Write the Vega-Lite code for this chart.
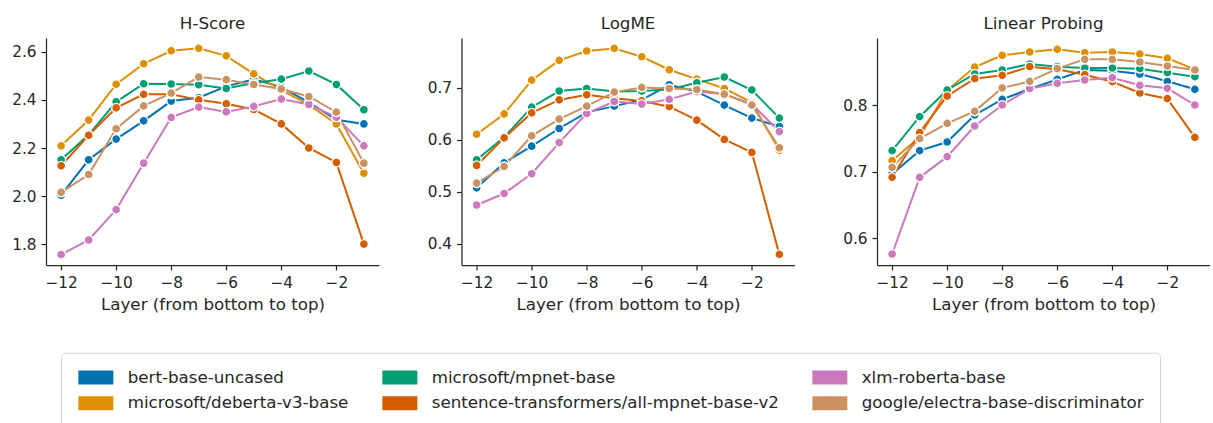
{
  "$schema": "https://vega.github.io/schema/vega-lite/v6.json",
  "background": "white",
  "padding": {"left": 11, "top": 16, "right": 0, "bottom": 0},
  "bounds": "flush",
  "spacing": 82.5,
  "config": {
    "view": {"stroke": null},
    "font": "DejaVu Sans",
    "axis": {
      "grid": false,
      "domainColor": "#262626",
      "domainWidth": 1.25,
      "tickColor": "#262626",
      "tickWidth": 1.25,
      "tickSize": 5,
      "labelFont": "DejaVu Sans",
      "labelFontSize": 15.3,
      "labelColor": "#262626",
      "labelPadding": 5,
      "titleFont": "DejaVu Sans",
      "titleFontSize": 16.7,
      "titleFontWeight": "normal",
      "titleColor": "#262626",
      "titlePadding": 6
    },
    "title": {"font": "DejaVu Sans", "fontSize": 16.7, "fontWeight": "normal", "color": "#262626", "baseline": "bottom", "offset": 5},
    "legend": {
      "labelFont": "DejaVu Sans",
      "labelFontSize": 16.7,
      "labelColor": "#262626",
      "labelLimit": 0,
      "symbolType": "M-1,-1H4V1H-1Z",
      "symbolSize": 196,
      "symbolStrokeWidth": 0,
      "symbolOpacity": 1,
      "labelOffset": 34,
      "columnPadding": 32,
      "rowPadding": 8.3,
      "padding": 16,
      "strokeColor": "#d4d4d4",
      "fillColor": "white",
      "cornerRadius": 4
    }
  },
  "datasets": {
    "d": [
      {"metric":"H-Score","model":"bert-base-uncased","layer":-12,"value":2.004},
      {"metric":"H-Score","model":"bert-base-uncased","layer":-11,"value":2.151},
      {"metric":"H-Score","model":"bert-base-uncased","layer":-10,"value":2.237},
      {"metric":"H-Score","model":"bert-base-uncased","layer":-9,"value":2.313},
      {"metric":"H-Score","model":"bert-base-uncased","layer":-8,"value":2.395},
      {"metric":"H-Score","model":"bert-base-uncased","layer":-7,"value":2.409},
      {"metric":"H-Score","model":"bert-base-uncased","layer":-6,"value":2.456},
      {"metric":"H-Score","model":"bert-base-uncased","layer":-5,"value":2.486},
      {"metric":"H-Score","model":"bert-base-uncased","layer":-4,"value":2.453},
      {"metric":"H-Score","model":"bert-base-uncased","layer":-3,"value":2.39},
      {"metric":"H-Score","model":"bert-base-uncased","layer":-2,"value":2.317},
      {"metric":"H-Score","model":"bert-base-uncased","layer":-1,"value":2.30},
      {"metric":"H-Score","model":"microsoft/deberta-v3-base","layer":-12,"value":2.209},
      {"metric":"H-Score","model":"microsoft/deberta-v3-base","layer":-11,"value":2.316},
      {"metric":"H-Score","model":"microsoft/deberta-v3-base","layer":-10,"value":2.465},
      {"metric":"H-Score","model":"microsoft/deberta-v3-base","layer":-9,"value":2.55},
      {"metric":"H-Score","model":"microsoft/deberta-v3-base","layer":-8,"value":2.604},
      {"metric":"H-Score","model":"microsoft/deberta-v3-base","layer":-7,"value":2.614},
      {"metric":"H-Score","model":"microsoft/deberta-v3-base","layer":-6,"value":2.583},
      {"metric":"H-Score","model":"microsoft/deberta-v3-base","layer":-5,"value":2.508},
      {"metric":"H-Score","model":"microsoft/deberta-v3-base","layer":-4,"value":2.44},
      {"metric":"H-Score","model":"microsoft/deberta-v3-base","layer":-3,"value":2.38},
      {"metric":"H-Score","model":"microsoft/deberta-v3-base","layer":-2,"value":2.30},
      {"metric":"H-Score","model":"microsoft/deberta-v3-base","layer":-1,"value":2.095},
      {"metric":"H-Score","model":"microsoft/mpnet-base","layer":-12,"value":2.151},
      {"metric":"H-Score","model":"microsoft/mpnet-base","layer":-11,"value":2.255},
      {"metric":"H-Score","model":"microsoft/mpnet-base","layer":-10,"value":2.392},
      {"metric":"H-Score","model":"microsoft/mpnet-base","layer":-9,"value":2.467},
      {"metric":"H-Score","model":"microsoft/mpnet-base","layer":-8,"value":2.466},
      {"metric":"H-Score","model":"microsoft/mpnet-base","layer":-7,"value":2.463},
      {"metric":"H-Score","model":"microsoft/mpnet-base","layer":-6,"value":2.447},
      {"metric":"H-Score","model":"microsoft/mpnet-base","layer":-5,"value":2.47},
      {"metric":"H-Score","model":"microsoft/mpnet-base","layer":-4,"value":2.486},
      {"metric":"H-Score","model":"microsoft/mpnet-base","layer":-3,"value":2.52},
      {"metric":"H-Score","model":"microsoft/mpnet-base","layer":-2,"value":2.464},
      {"metric":"H-Score","model":"microsoft/mpnet-base","layer":-1,"value":2.359},
      {"metric":"H-Score","model":"sentence-transformers/all-mpnet-base-v2","layer":-12,"value":2.126},
      {"metric":"H-Score","model":"sentence-transformers/all-mpnet-base-v2","layer":-11,"value":2.253},
      {"metric":"H-Score","model":"sentence-transformers/all-mpnet-base-v2","layer":-10,"value":2.367},
      {"metric":"H-Score","model":"sentence-transformers/all-mpnet-base-v2","layer":-9,"value":2.423},
      {"metric":"H-Score","model":"sentence-transformers/all-mpnet-base-v2","layer":-8,"value":2.423},
      {"metric":"H-Score","model":"sentence-transformers/all-mpnet-base-v2","layer":-7,"value":2.40},
      {"metric":"H-Score","model":"sentence-transformers/all-mpnet-base-v2","layer":-6,"value":2.384},
      {"metric":"H-Score","model":"sentence-transformers/all-mpnet-base-v2","layer":-5,"value":2.36},
      {"metric":"H-Score","model":"sentence-transformers/all-mpnet-base-v2","layer":-4,"value":2.30},
      {"metric":"H-Score","model":"sentence-transformers/all-mpnet-base-v2","layer":-3,"value":2.20},
      {"metric":"H-Score","model":"sentence-transformers/all-mpnet-base-v2","layer":-2,"value":2.14},
      {"metric":"H-Score","model":"sentence-transformers/all-mpnet-base-v2","layer":-1,"value":1.801},
      {"metric":"H-Score","model":"xlm-roberta-base","layer":-12,"value":1.757},
      {"metric":"H-Score","model":"xlm-roberta-base","layer":-11,"value":1.818},
      {"metric":"H-Score","model":"xlm-roberta-base","layer":-10,"value":1.944},
      {"metric":"H-Score","model":"xlm-roberta-base","layer":-9,"value":2.137},
      {"metric":"H-Score","model":"xlm-roberta-base","layer":-8,"value":2.327},
      {"metric":"H-Score","model":"xlm-roberta-base","layer":-7,"value":2.37},
      {"metric":"H-Score","model":"xlm-roberta-base","layer":-6,"value":2.35},
      {"metric":"H-Score","model":"xlm-roberta-base","layer":-5,"value":2.373},
      {"metric":"H-Score","model":"xlm-roberta-base","layer":-4,"value":2.403},
      {"metric":"H-Score","model":"xlm-roberta-base","layer":-3,"value":2.381},
      {"metric":"H-Score","model":"xlm-roberta-base","layer":-2,"value":2.328},
      {"metric":"H-Score","model":"xlm-roberta-base","layer":-1,"value":2.209},
      {"metric":"H-Score","model":"google/electra-base-discriminator","layer":-12,"value":2.016},
      {"metric":"H-Score","model":"google/electra-base-discriminator","layer":-11,"value":2.09},
      {"metric":"H-Score","model":"google/electra-base-discriminator","layer":-10,"value":2.28},
      {"metric":"H-Score","model":"google/electra-base-discriminator","layer":-9,"value":2.375},
      {"metric":"H-Score","model":"google/electra-base-discriminator","layer":-8,"value":2.428},
      {"metric":"H-Score","model":"google/electra-base-discriminator","layer":-7,"value":2.495},
      {"metric":"H-Score","model":"google/electra-base-discriminator","layer":-6,"value":2.484},
      {"metric":"H-Score","model":"google/electra-base-discriminator","layer":-5,"value":2.464},
      {"metric":"H-Score","model":"google/electra-base-discriminator","layer":-4,"value":2.445},
      {"metric":"H-Score","model":"google/electra-base-discriminator","layer":-3,"value":2.414},
      {"metric":"H-Score","model":"google/electra-base-discriminator","layer":-2,"value":2.349},
      {"metric":"H-Score","model":"google/electra-base-discriminator","layer":-1,"value":2.137},

      {"metric":"LogME","model":"bert-base-uncased","layer":-12,"value":0.508},
      {"metric":"LogME","model":"bert-base-uncased","layer":-11,"value":0.556},
      {"metric":"LogME","model":"bert-base-uncased","layer":-10,"value":0.588},
      {"metric":"LogME","model":"bert-base-uncased","layer":-9,"value":0.622},
      {"metric":"LogME","model":"bert-base-uncased","layer":-8,"value":0.653},
      {"metric":"LogME","model":"bert-base-uncased","layer":-7,"value":0.665},
      {"metric":"LogME","model":"bert-base-uncased","layer":-6,"value":0.677},
      {"metric":"LogME","model":"bert-base-uncased","layer":-5,"value":0.706},
      {"metric":"LogME","model":"bert-base-uncased","layer":-4,"value":0.693},
      {"metric":"LogME","model":"bert-base-uncased","layer":-3,"value":0.667},
      {"metric":"LogME","model":"bert-base-uncased","layer":-2,"value":0.642},
      {"metric":"LogME","model":"bert-base-uncased","layer":-1,"value":0.626},
      {"metric":"LogME","model":"microsoft/deberta-v3-base","layer":-12,"value":0.611},
      {"metric":"LogME","model":"microsoft/deberta-v3-base","layer":-11,"value":0.65},
      {"metric":"LogME","model":"microsoft/deberta-v3-base","layer":-10,"value":0.715},
      {"metric":"LogME","model":"microsoft/deberta-v3-base","layer":-9,"value":0.753},
      {"metric":"LogME","model":"microsoft/deberta-v3-base","layer":-8,"value":0.771},
      {"metric":"LogME","model":"microsoft/deberta-v3-base","layer":-7,"value":0.776},
      {"metric":"LogME","model":"microsoft/deberta-v3-base","layer":-6,"value":0.760},
      {"metric":"LogME","model":"microsoft/deberta-v3-base","layer":-5,"value":0.735},
      {"metric":"LogME","model":"microsoft/deberta-v3-base","layer":-4,"value":0.717},
      {"metric":"LogME","model":"microsoft/deberta-v3-base","layer":-3,"value":0.699},
      {"metric":"LogME","model":"microsoft/deberta-v3-base","layer":-2,"value":0.672},
      {"metric":"LogME","model":"microsoft/deberta-v3-base","layer":-1,"value":0.58},
      {"metric":"LogME","model":"microsoft/mpnet-base","layer":-12,"value":0.562},
      {"metric":"LogME","model":"microsoft/mpnet-base","layer":-11,"value":0.605},
      {"metric":"LogME","model":"microsoft/mpnet-base","layer":-10,"value":0.663},
      {"metric":"LogME","model":"microsoft/mpnet-base","layer":-9,"value":0.694},
      {"metric":"LogME","model":"microsoft/mpnet-base","layer":-8,"value":0.699},
      {"metric":"LogME","model":"microsoft/mpnet-base","layer":-7,"value":0.693},
      {"metric":"LogME","model":"microsoft/mpnet-base","layer":-6,"value":0.694},
      {"metric":"LogME","model":"microsoft/mpnet-base","layer":-5,"value":0.697},
      {"metric":"LogME","model":"microsoft/mpnet-base","layer":-4,"value":0.71},
      {"metric":"LogME","model":"microsoft/mpnet-base","layer":-3,"value":0.721},
      {"metric":"LogME","model":"microsoft/mpnet-base","layer":-2,"value":0.696},
      {"metric":"LogME","model":"microsoft/mpnet-base","layer":-1,"value":0.642},
      {"metric":"LogME","model":"sentence-transformers/all-mpnet-base-v2","layer":-12,"value":0.551},
      {"metric":"LogME","model":"sentence-transformers/all-mpnet-base-v2","layer":-11,"value":0.604},
      {"metric":"LogME","model":"sentence-transformers/all-mpnet-base-v2","layer":-10,"value":0.652},
      {"metric":"LogME","model":"sentence-transformers/all-mpnet-base-v2","layer":-9,"value":0.677},
      {"metric":"LogME","model":"sentence-transformers/all-mpnet-base-v2","layer":-8,"value":0.687},
      {"metric":"LogME","model":"sentence-transformers/all-mpnet-base-v2","layer":-7,"value":0.680},
      {"metric":"LogME","model":"sentence-transformers/all-mpnet-base-v2","layer":-6,"value":0.675},
      {"metric":"LogME","model":"sentence-transformers/all-mpnet-base-v2","layer":-5,"value":0.664},
      {"metric":"LogME","model":"sentence-transformers/all-mpnet-base-v2","layer":-4,"value":0.638},
      {"metric":"LogME","model":"sentence-transformers/all-mpnet-base-v2","layer":-3,"value":0.601},
      {"metric":"LogME","model":"sentence-transformers/all-mpnet-base-v2","layer":-2,"value":0.576},
      {"metric":"LogME","model":"sentence-transformers/all-mpnet-base-v2","layer":-1,"value":0.38},
      {"metric":"LogME","model":"xlm-roberta-base","layer":-12,"value":0.475},
      {"metric":"LogME","model":"xlm-roberta-base","layer":-11,"value":0.497},
      {"metric":"LogME","model":"xlm-roberta-base","layer":-10,"value":0.535},
      {"metric":"LogME","model":"xlm-roberta-base","layer":-9,"value":0.595},
      {"metric":"LogME","model":"xlm-roberta-base","layer":-8,"value":0.651},
      {"metric":"LogME","model":"xlm-roberta-base","layer":-7,"value":0.674},
      {"metric":"LogME","model":"xlm-roberta-base","layer":-6,"value":0.669},
      {"metric":"LogME","model":"xlm-roberta-base","layer":-5,"value":0.678},
      {"metric":"LogME","model":"xlm-roberta-base","layer":-4,"value":0.693},
      {"metric":"LogME","model":"xlm-roberta-base","layer":-3,"value":0.688},
      {"metric":"LogME","model":"xlm-roberta-base","layer":-2,"value":0.669},
      {"metric":"LogME","model":"xlm-roberta-base","layer":-1,"value":0.616},
      {"metric":"LogME","model":"google/electra-base-discriminator","layer":-12,"value":0.517},
      {"metric":"LogME","model":"google/electra-base-discriminator","layer":-11,"value":0.549},
      {"metric":"LogME","model":"google/electra-base-discriminator","layer":-10,"value":0.608},
      {"metric":"LogME","model":"google/electra-base-discriminator","layer":-9,"value":0.640},
      {"metric":"LogME","model":"google/electra-base-discriminator","layer":-8,"value":0.665},
      {"metric":"LogME","model":"google/electra-base-discriminator","layer":-7,"value":0.692},
      {"metric":"LogME","model":"google/electra-base-discriminator","layer":-6,"value":0.701},
      {"metric":"LogME","model":"google/electra-base-discriminator","layer":-5,"value":0.699},
      {"metric":"LogME","model":"google/electra-base-discriminator","layer":-4,"value":0.697},
      {"metric":"LogME","model":"google/electra-base-discriminator","layer":-3,"value":0.688},
      {"metric":"LogME","model":"google/electra-base-discriminator","layer":-2,"value":0.667},
      {"metric":"LogME","model":"google/electra-base-discriminator","layer":-1,"value":0.585},

      {"metric":"Linear Probing","model":"bert-base-uncased","layer":-12,"value":0.6965},
      {"metric":"Linear Probing","model":"bert-base-uncased","layer":-11,"value":0.7315},
      {"metric":"Linear Probing","model":"bert-base-uncased","layer":-10,"value":0.7445},
      {"metric":"Linear Probing","model":"bert-base-uncased","layer":-9,"value":0.785},
      {"metric":"Linear Probing","model":"bert-base-uncased","layer":-8,"value":0.8085},
      {"metric":"Linear Probing","model":"bert-base-uncased","layer":-7,"value":0.824},
      {"metric":"Linear Probing","model":"bert-base-uncased","layer":-6,"value":0.8385},
      {"metric":"Linear Probing","model":"bert-base-uncased","layer":-5,"value":0.8525},
      {"metric":"Linear Probing","model":"bert-base-uncased","layer":-4,"value":0.8515},
      {"metric":"Linear Probing","model":"bert-base-uncased","layer":-3,"value":0.8465},
      {"metric":"Linear Probing","model":"bert-base-uncased","layer":-2,"value":0.8355},
      {"metric":"Linear Probing","model":"bert-base-uncased","layer":-1,"value":0.8235},
      {"metric":"Linear Probing","model":"microsoft/deberta-v3-base","layer":-12,"value":0.7165},
      {"metric":"Linear Probing","model":"microsoft/deberta-v3-base","layer":-11,"value":0.752},
      {"metric":"Linear Probing","model":"microsoft/deberta-v3-base","layer":-10,"value":0.822},
      {"metric":"Linear Probing","model":"microsoft/deberta-v3-base","layer":-9,"value":0.857},
      {"metric":"Linear Probing","model":"microsoft/deberta-v3-base","layer":-8,"value":0.8745},
      {"metric":"Linear Probing","model":"microsoft/deberta-v3-base","layer":-7,"value":0.8795},
      {"metric":"Linear Probing","model":"microsoft/deberta-v3-base","layer":-6,"value":0.8835},
      {"metric":"Linear Probing","model":"microsoft/deberta-v3-base","layer":-5,"value":0.8785},
      {"metric":"Linear Probing","model":"microsoft/deberta-v3-base","layer":-4,"value":0.8795},
      {"metric":"Linear Probing","model":"microsoft/deberta-v3-base","layer":-3,"value":0.8765},
      {"metric":"Linear Probing","model":"microsoft/deberta-v3-base","layer":-2,"value":0.870},
      {"metric":"Linear Probing","model":"microsoft/deberta-v3-base","layer":-1,"value":0.8535},
      {"metric":"Linear Probing","model":"microsoft/mpnet-base","layer":-12,"value":0.7315},
      {"metric":"Linear Probing","model":"microsoft/mpnet-base","layer":-11,"value":0.7825},
      {"metric":"Linear Probing","model":"microsoft/mpnet-base","layer":-10,"value":0.8225},
      {"metric":"Linear Probing","model":"microsoft/mpnet-base","layer":-9,"value":0.8465},
      {"metric":"Linear Probing","model":"microsoft/mpnet-base","layer":-8,"value":0.8525},
      {"metric":"Linear Probing","model":"microsoft/mpnet-base","layer":-7,"value":0.8615},
      {"metric":"Linear Probing","model":"microsoft/mpnet-base","layer":-6,"value":0.8575},
      {"metric":"Linear Probing","model":"microsoft/mpnet-base","layer":-5,"value":0.8555},
      {"metric":"Linear Probing","model":"microsoft/mpnet-base","layer":-4,"value":0.8555},
      {"metric":"Linear Probing","model":"microsoft/mpnet-base","layer":-3,"value":0.8545},
      {"metric":"Linear Probing","model":"microsoft/mpnet-base","layer":-2,"value":0.8485},
      {"metric":"Linear Probing","model":"microsoft/mpnet-base","layer":-1,"value":0.8425},
      {"metric":"Linear Probing","model":"sentence-transformers/all-mpnet-base-v2","layer":-12,"value":0.6915},
      {"metric":"Linear Probing","model":"sentence-transformers/all-mpnet-base-v2","layer":-11,"value":0.7585},
      {"metric":"Linear Probing","model":"sentence-transformers/all-mpnet-base-v2","layer":-10,"value":0.8135},
      {"metric":"Linear Probing","model":"sentence-transformers/all-mpnet-base-v2","layer":-9,"value":0.8395},
      {"metric":"Linear Probing","model":"sentence-transformers/all-mpnet-base-v2","layer":-8,"value":0.8445},
      {"metric":"Linear Probing","model":"sentence-transformers/all-mpnet-base-v2","layer":-7,"value":0.8575},
      {"metric":"Linear Probing","model":"sentence-transformers/all-mpnet-base-v2","layer":-6,"value":0.8535},
      {"metric":"Linear Probing","model":"sentence-transformers/all-mpnet-base-v2","layer":-5,"value":0.8455},
      {"metric":"Linear Probing","model":"sentence-transformers/all-mpnet-base-v2","layer":-4,"value":0.835},
      {"metric":"Linear Probing","model":"sentence-transformers/all-mpnet-base-v2","layer":-3,"value":0.818},
      {"metric":"Linear Probing","model":"sentence-transformers/all-mpnet-base-v2","layer":-2,"value":0.8095},
      {"metric":"Linear Probing","model":"sentence-transformers/all-mpnet-base-v2","layer":-1,"value":0.7515},
      {"metric":"Linear Probing","model":"xlm-roberta-base","layer":-12,"value":0.5765},
      {"metric":"Linear Probing","model":"xlm-roberta-base","layer":-11,"value":0.6915},
      {"metric":"Linear Probing","model":"xlm-roberta-base","layer":-10,"value":0.7225},
      {"metric":"Linear Probing","model":"xlm-roberta-base","layer":-9,"value":0.7685},
      {"metric":"Linear Probing","model":"xlm-roberta-base","layer":-8,"value":0.80},
      {"metric":"Linear Probing","model":"xlm-roberta-base","layer":-7,"value":0.8245},
      {"metric":"Linear Probing","model":"xlm-roberta-base","layer":-6,"value":0.8325},
      {"metric":"Linear Probing","model":"xlm-roberta-base","layer":-5,"value":0.8375},
      {"metric":"Linear Probing","model":"xlm-roberta-base","layer":-4,"value":0.841},
      {"metric":"Linear Probing","model":"xlm-roberta-base","layer":-3,"value":0.8295},
      {"metric":"Linear Probing","model":"xlm-roberta-base","layer":-2,"value":0.825},
      {"metric":"Linear Probing","model":"xlm-roberta-base","layer":-1,"value":0.80},
      {"metric":"Linear Probing","model":"google/electra-base-discriminator","layer":-12,"value":0.7065},
      {"metric":"Linear Probing","model":"google/electra-base-discriminator","layer":-11,"value":0.7495},
      {"metric":"Linear Probing","model":"google/electra-base-discriminator","layer":-10,"value":0.7725},
      {"metric":"Linear Probing","model":"google/electra-base-discriminator","layer":-9,"value":0.7905},
      {"metric":"Linear Probing","model":"google/electra-base-discriminator","layer":-8,"value":0.8255},
      {"metric":"Linear Probing","model":"google/electra-base-discriminator","layer":-7,"value":0.8355},
      {"metric":"Linear Probing","model":"google/electra-base-discriminator","layer":-6,"value":0.8545},
      {"metric":"Linear Probing","model":"google/electra-base-discriminator","layer":-5,"value":0.8685},
      {"metric":"Linear Probing","model":"google/electra-base-discriminator","layer":-4,"value":0.8685},
      {"metric":"Linear Probing","model":"google/electra-base-discriminator","layer":-3,"value":0.8645},
      {"metric":"Linear Probing","model":"google/electra-base-discriminator","layer":-2,"value":0.8585},
      {"metric":"Linear Probing","model":"google/electra-base-discriminator","layer":-1,"value":0.8525}
    ]
  },
  "hconcat": [
    {
      "width": 333, "height": 227,
      "title": "H-Score",
      "data": {"name": "d"},
      "transform": [{"filter": "datum.metric === 'H-Score'"}],
      "encoding": {
        "x": {"field": "layer", "type": "quantitative", "scale": {"domain": [-12.55, -0.45], "nice": false, "zero": false}, "axis": {"values": [-12, -10, -8, -6, -4, -2], "format": "d", "title": "Layer (from bottom to top)"}},
        "y": {"field": "value", "type": "quantitative", "scale": {"domain": [1.714, 2.657], "nice": false, "zero": false}, "axis": {"values": [1.8, 2.0, 2.2, 2.4, 2.6], "format": ".1f", "title": null}},
        "color": {"field": "model", "type": "nominal",
          "scale": {"domain": ["bert-base-uncased", "microsoft/mpnet-base", "xlm-roberta-base", "microsoft/deberta-v3-base", "sentence-transformers/all-mpnet-base-v2", "google/electra-base-discriminator"],
                    "range": ["#0173b2", "#029e73", "#cc78bc", "#de8f05", "#d55e00", "#ca9161"]},
          "legend": {"orient": "none", "legendX": 15, "legendY": 314.7, "direction": "horizontal", "columns": 3, "title": null}}
      },
      "layer": [
        {"mark": {"type": "line", "strokeWidth": 2}},
        {"mark": {"type": "point", "filled": true, "size": 80, "stroke": "white", "strokeWidth": 1.3, "opacity": 1}}
      ]
    },
    {
      "width": 333, "height": 227,
      "title": "LogME",
      "data": {"name": "d"},
      "transform": [{"filter": "datum.metric === 'LogME'"}],
      "encoding": {
        "x": {"field": "layer", "type": "quantitative", "scale": {"domain": [-12.55, -0.45], "nice": false, "zero": false}, "axis": {"values": [-12, -10, -8, -6, -4, -2], "format": "d", "title": "Layer (from bottom to top)"}},
        "y": {"field": "value", "type": "quantitative", "scale": {"domain": [0.3596, 0.796], "nice": false, "zero": false}, "axis": {"values": [0.4, 0.5, 0.6, 0.7], "format": ".1f", "title": null}},
        "color": {"field": "model", "type": "nominal",
          "scale": {"domain": ["bert-base-uncased", "microsoft/mpnet-base", "xlm-roberta-base", "microsoft/deberta-v3-base", "sentence-transformers/all-mpnet-base-v2", "google/electra-base-discriminator"],
                    "range": ["#0173b2", "#029e73", "#cc78bc", "#de8f05", "#d55e00", "#ca9161"]},
          "legend": {"orient": "none", "legendX": 15, "legendY": 314.7, "direction": "horizontal", "columns": 3, "title": null}}
      },
      "layer": [
        {"mark": {"type": "line", "strokeWidth": 2}},
        {"mark": {"type": "point", "filled": true, "size": 80, "stroke": "white", "strokeWidth": 1.3, "opacity": 1}}
      ]
    },
    {
      "width": 333, "height": 227,
      "title": "Linear Probing",
      "data": {"name": "d"},
      "transform": [{"filter": "datum.metric === 'Linear Probing'"}],
      "encoding": {
        "x": {"field": "layer", "type": "quantitative", "scale": {"domain": [-12.55, -0.45], "nice": false, "zero": false}, "axis": {"values": [-12, -10, -8, -6, -4, -2], "format": "d", "title": "Layer (from bottom to top)"}},
        "y": {"field": "value", "type": "quantitative", "scale": {"domain": [0.56, 0.9005], "nice": false, "zero": false}, "axis": {"values": [0.6, 0.7, 0.8], "format": ".1f", "title": null}},
        "color": {"field": "model", "type": "nominal",
          "scale": {"domain": ["bert-base-uncased", "microsoft/mpnet-base", "xlm-roberta-base", "microsoft/deberta-v3-base", "sentence-transformers/all-mpnet-base-v2", "google/electra-base-discriminator"],
                    "range": ["#0173b2", "#029e73", "#cc78bc", "#de8f05", "#d55e00", "#ca9161"]},
          "legend": {"orient": "none", "legendX": 15, "legendY": 314.7, "direction": "horizontal", "columns": 3, "title": null}}
      },
      "layer": [
        {"mark": {"type": "line", "strokeWidth": 2}},
        {"mark": {"type": "point", "filled": true, "size": 80, "stroke": "white", "strokeWidth": 1.3, "opacity": 1}}
      ]
    }
  ]
}
